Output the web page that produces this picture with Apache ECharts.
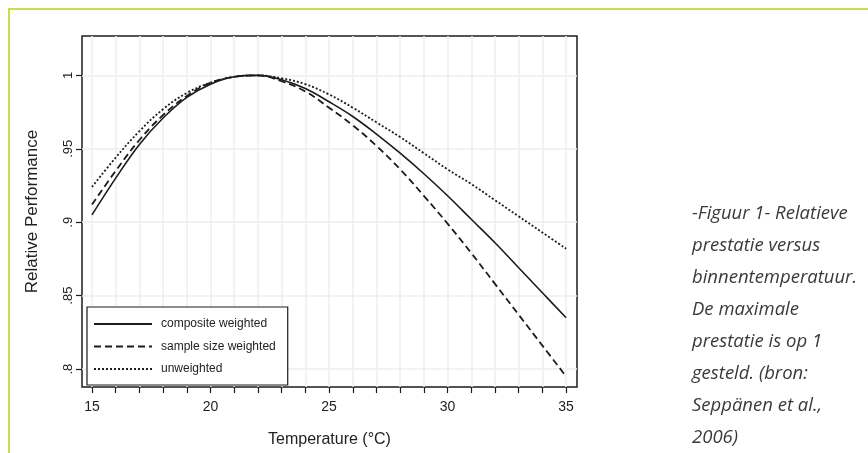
<!DOCTYPE html>
<html>
<head>
<meta charset="utf-8">
<script src="https://cdn.jsdelivr.net/npm/echarts@6/dist/echarts.min.js"></script>
<style>
    html, body {
        margin: 0;
        padding: 0;
        background: #fff;
    }
    .frame {
        position: absolute;
        left: 8px;
        top: 8px;
        width: 860px;
        height: 445px;
        border-top: 2px solid #c8df4c;
        border-left: 2px solid #c8df4c;
    }
    #chart {
        position: absolute;
        left: 0;
        top: 0;
        width: 868px;
        height: 453px;
    }
</style>
</head>
<body>
<div class="frame"></div>
<div id="chart"></div>
<script>
// temperatuur (°C)
const temps = [15, 16, 17, 18, 19, 20, 21, 22, 23, 24, 25,
    26, 27, 28, 29, 30, 31, 32, 33, 34, 35]
// relatieve prestatie
const composite = [0.905, 0.930, 0.953, 0.971, 0.985, 0.994, 0.999, 1.000, 0.997, 0.991, 0.982,
    0.972, 0.960, 0.947, 0.933, 0.918, 0.902, 0.886, 0.869, 0.852, 0.835]
const sampleSize = [0.912, 0.935, 0.956, 0.973, 0.986, 0.995, 0.999, 1.000, 0.996, 0.989, 0.978,
    0.966, 0.952, 0.936, 0.918, 0.899, 0.879, 0.858, 0.837, 0.816, 0.795]
const unweighted = [0.924, 0.944, 0.962, 0.977, 0.988, 0.995, 0.999, 1.000, 0.998, 0.994, 0.987,
    0.978, 0.968, 0.958, 0.947, 0.936, 0.926, 0.915, 0.904, 0.893, 0.882]
// as-ticks
const xTicks = temps
const xLabels = [15, 20, 25, 30, 35]
const yTicks = [0.8, 0.85, 0.9, 0.95, 1]

const caption = '-Figuur 1- Relatieve\nprestatie versus\nbinnentemperatuur.\nDe maximale\nprestatie is op 1\ngesteld. (bron:\nSeppänen et al.,\n2006)'

const zip = (xs, ys) => xs.map((x, i) => [x, ys[i]])
const font = 'Liberation Sans, Arial, sans-serif'
const ink = '#1c1c1c'

const chart = echarts.init(document.getElementById('chart'))

const option = {
    animation: false,
    title: {
        text: caption,
        left: 687,
        top: 193,
        textStyle: {
            fontFamily: 'Open Sans, Noto Sans, sans-serif',
            fontStyle: 'italic',
            fontWeight: 'normal',
            fontSize: 18.5,
            lineHeight: 32,
            color: '#3a3a3a'
        }
    },
    grid: {
        left: 82,
        top: 36,
        right: 291,
        bottom: 65,
        show: true,
        borderColor: ink,
        borderWidth: 1.5,
        backgroundColor: '#fff'
    },
    legend: {
        orient: 'vertical',
        left: 87,
        top: 307,
        padding: [11, 12, 10, 6],
        itemWidth: 58,
        itemHeight: 14,
        itemGap: 10.5,
        borderColor: ink,
        borderWidth: 1.2,
        backgroundColor: '#fff',
        itemStyle: { opacity: 0 },
        textStyle: {
            fontFamily: font,
            fontSize: 12,
            color: '#222',
            padding: [0, 0, 0, 4]
        },
        data: ['composite weighted', 'sample size weighted', 'unweighted']
    },
    xAxis: {
        type: 'value',
        min: 14.578,
        max: 35.46,
        name: 'Temperature (°C)',
        nameLocation: 'middle',
        nameGap: 45,
        nameTextStyle: {
            fontFamily: font,
            fontSize: 16,
            color: '#222'
        },
        axisLine: { show: false },
        axisTick: {
            show: true,
            length: 6,
            customValues: xTicks,
            lineStyle: { color: ink, width: 1.2 }
        },
        axisLabel: {
            customValues: xLabels,
            margin: 13,
            fontFamily: font,
            fontSize: 14,
            color: '#222'
        },
        splitLine: {
            show: true,
            lineStyle: { color: '#eeeeee', width: 1.5 }
        }
    },
    yAxis: {
        type: 'value',
        min: 0.7878,
        max: 1.0268,
        name: 'Relative Performance',
        nameLocation: 'middle',
        nameGap: 41,
        nameTextStyle: {
            fontFamily: font,
            fontSize: 17,
            color: '#222'
        },
        axisLine: { show: false },
        axisTick: {
            show: true,
            length: 6,
            customValues: yTicks,
            lineStyle: { color: ink, width: 1.2 }
        },
        axisLabel: {
            customValues: yTicks,
            rotate: 90,
            margin: 7,
            fontFamily: font,
            fontSize: 13,
            color: '#222',
            formatter: (v) => (v === 1 ? '1' : String(v).replace(/^0/, ''))
        },
        splitLine: {
            show: true,
            lineStyle: { color: '#eeeeee', width: 1.5 }
        }
    },
    series: [
        {
            name: 'composite weighted',
            type: 'line',
            data: zip(temps, composite),
            smooth: 0.4,
            symbol: 'none',
            itemStyle: { color: ink },
            lineStyle: { color: ink, width: 1.6, type: 'solid' }
        },
        {
            name: 'sample size weighted',
            type: 'line',
            data: zip(temps, sampleSize),
            smooth: 0.4,
            symbol: 'none',
            itemStyle: { color: ink },
            lineStyle: { color: ink, width: 1.8, type: [7, 4] }
        },
        {
            name: 'unweighted',
            type: 'line',
            data: zip(temps, unweighted),
            smooth: 0.4,
            symbol: 'none',
            itemStyle: { color: ink },
            lineStyle: { color: ink, width: 1.8, type: [2, 2] }
        }
    ]
}

chart.setOption(option)
</script>
</body>
</html>
